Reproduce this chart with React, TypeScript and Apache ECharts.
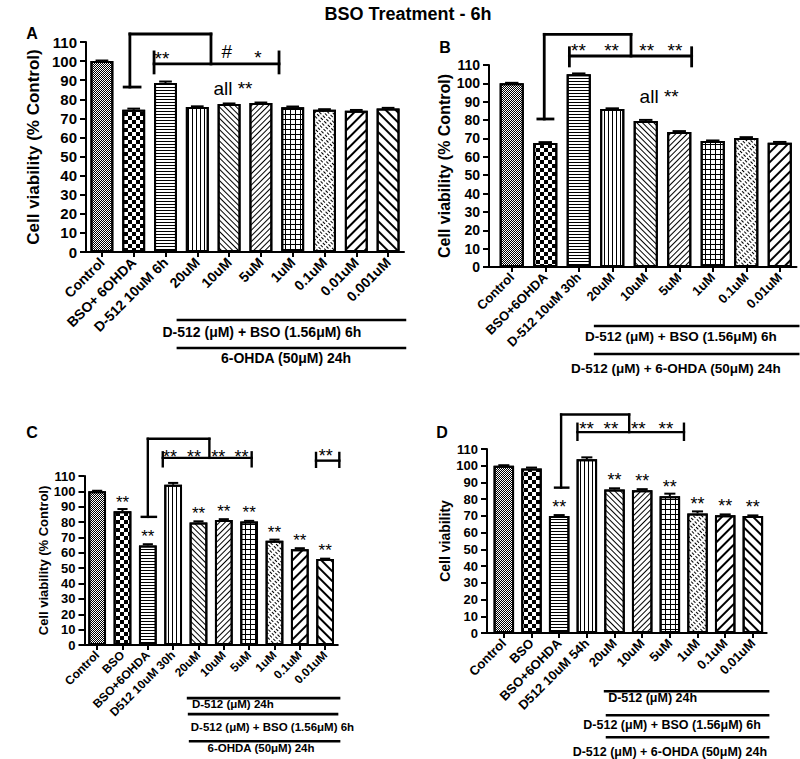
import React, { useEffect, useRef } from 'react';
import * as echarts from 'echarts';

// ---------- data ----------
const catsA = ['Control', 'BSO+ 6OHDA', 'D-512 10uM 6h', '20uM', '10uM', '5uM', '1uM', '0.1uM', '0.01uM', '0.001uM'];
const valsA = [100, 74.5, 88.5, 76, 77.5, 78, 75.8, 74.5, 74, 75.2];
const errA = [0.3, 0.6, 0.8, 0.3, 0.3, 0.3, 0.4, 0.3, 0.4, 0.3];

const catsB = ['Control', 'BSO+6OHDA', 'D-512 10uM 30h', '20uM', '10uM', '5uM', '1uM', '0.1uM', '0.01uM'];
const valsB = [100, 67.5, 104.9, 86, 79.5, 73.5, 68.6, 70.2, 67.7];
const errB = [0.3, 0.5, 0.5, 0.4, 0.6, 0.5, 0.3, 0.5, 0.4];

const catsC = ['Control', 'BSO', 'BSO+6OHDA', 'D512 10uM 30h', '20uM', '10uM', '5uM', '1uM', '0.1uM', '0.01uM'];
const valsC = [100, 87, 64.8, 104.3, 79.8, 81.3, 80.4, 67.8, 62.4, 55.9];
const errC = [0.4, 1.5, 0.8, 1.2, 0.7, 0.6, 0.4, 0.8, 0.6, 0.3];
const sigC = ['', '**', '**', '', '**', '**', '**', '**', '**', '**'];

const catsD = ['Control', 'BSO', 'BSO+6OHDA', 'D512 10uM 54h', '20uM', '10uM', '5uM', '1uM', '0.1uM', '0.01uM'];
const valsD = [100, 98.4, 70, 103.8, 85.8, 85.4, 81.8, 71.5, 70.4, 70];
const errD = [0.3, 0.5, 0.5, 1.2, 0.7, 0.6, 1.5, 1.2, 0.5, 0.3];
const sigD = ['', '', '**', '', '**', '**', '**', '**', '**', '**'];

const yMin = 0;
const yMax = 110;
const yStep = 10;

// annotation geometry in data space: [catIndex1, value1, catIndex2, value2]
type Seg = [number, number, number, number];
type Note = { x: number; y: number; text: string; size: number; bold?: boolean; align?: string };

const bracketsA: Seg[] = [
  [0.88, 86.4, 0.88, 114.2], [0.7, 86.4, 1.2, 86.4], [0.88, 114.2, 3.43, 114.2], [3.43, 114.2, 3.43, 98.5],
  [1.64, 98.5, 5.57, 98.5], [1.64, 93.8, 1.64, 104.8], [5.57, 93.8, 5.57, 104.8],
];
const notesA: Note[] = [
  { x: 1.89, y: 101.4, text: '**', size: 19 },
  { x: 3.93, y: 104.8, text: '#', size: 19 },
  { x: 4.91, y: 101.9, text: '*', size: 19 },
  { x: 4.12, y: 85.9, text: 'all **', size: 19 },
];
const groupLinesA: Seg[] = [[2.39, -35.6, 9.53, -35.6], [2.39, -50.3, 9.53, -50.3]];
const groupTextsA: Note[] = [
  { x: 5.03, y: -41.9, text: 'D-512 (μM) + BSO (1.56μM) 6h', size: 14, bold: true },
  { x: 5.79, y: -55.5, text: '6-OHDA (50μM) 24h', size: 14, bold: true },
];

const bracketsB: Seg[] = [
  [0.97, 80.6, 0.97, 126.7], [0.78, 80.6, 1.23, 80.6], [0.97, 126.7, 3.56, 126.7], [3.56, 126.7, 3.56, 114.9],
  [1.72, 114.9, 5.37, 114.9], [1.72, 109.5, 1.72, 119.4], [5.37, 109.5, 5.37, 119.4],
];
const notesB: Note[] = [
  { x: 1.99, y: 118.0, text: '**', size: 19 },
  { x: 2.98, y: 118.0, text: '**', size: 19 },
  { x: 4.03, y: 118.0, text: '**', size: 19 },
  { x: 4.87, y: 118.0, text: '**', size: 19 },
  { x: 4.4, y: 92.6, text: 'all **', size: 19 },
];
const groupLinesB: Seg[] = [[2.49, -32.1, 8.55, -32.1], [2.49, -47.4, 8.55, -47.4]];
const groupTextsB: Note[] = [
  { x: 5.05, y: -38.1, text: 'D-512 (μM) + BSO (1.56μM) 6h', size: 13.5, bold: true },
  { x: 4.9, y: -55.0, text: 'D-512 (μM) + 6-OHDA (50μM) 24h', size: 13.5, bold: true },
];

const bracketsC: Seg[] = [
  [2.0, 83.4, 2.0, 134.2], [1.76, 83.4, 2.32, 83.4], [2.0, 134.2, 4.43, 134.2], [4.43, 134.2, 4.43, 121.8],
  [2.59, 121.8, 6.1, 121.8], [2.59, 116.3, 2.59, 125.4], [6.1, 116.3, 6.1, 125.4],
  [8.64, 120, 9.56, 120], [8.64, 116, 8.64, 125], [9.56, 116, 9.56, 125],
];
const notesC: Note[] = [
  { x: 2.88, y: 122.6, text: '**', size: 18 },
  { x: 3.82, y: 122.6, text: '**', size: 18 },
  { x: 4.78, y: 122.6, text: '**', size: 18 },
  { x: 5.7, y: 122.6, text: '**', size: 18 },
  { x: 9.02, y: 123.2, text: '**', size: 18 },
];
const groupLinesC: Seg[] = [[3.59, -34.6, 9.55, -34.6], [3.63, -45.0, 9.47, -45.0], [3.67, -62.6, 9.55, -62.6]];
const groupTextsC: Note[] = [
  { x: 3.74, y: -38.6, text: 'D-512 (μM) 24h', size: 11.5, bold: true, align: 'left' },
  { x: 6.92, y: -53.5, text: 'D-512 (μM) + BSO (1.56μM) 6h', size: 11.5, bold: true },
  { x: 6.47, y: -67.2, text: '6-OHDA (50μM) 24h', size: 11.5, bold: true },
];

const bracketsD: Seg[] = [
  [2.07, 86.9, 2.07, 130.6], [1.85, 86.9, 2.33, 86.9], [2.07, 130.6, 4.53, 130.6], [4.53, 130.6, 4.53, 120.1],
  [2.66, 120.1, 6.51, 120.1], [2.66, 115.5, 2.66, 125.1], [6.51, 115.5, 6.51, 125.1],
];
const notesD: Note[] = [
  { x: 2.99, y: 122.5, text: '**', size: 19 },
  { x: 3.87, y: 122.5, text: '**', size: 19 },
  { x: 4.86, y: 122.5, text: '**', size: 19 },
  { x: 5.86, y: 122.5, text: '**', size: 19 },
];
const groupLinesD: Seg[] = [[3.66, -34.8, 9.55, -34.8], [3.73, -49.2, 9.55, -49.2], [3.73, -62.3, 9.55, -62.3]];
const groupTextsD: Note[] = [
  { x: 3.77, y: -39.0, text: 'D-512 (μM) 24h', size: 12.5, bold: true, align: 'left' },
  { x: 6.08, y: -55.1, text: 'D-512 (μM) + BSO (1.56μM) 6h', size: 12.5, bold: true },
  { x: 6.0, y: -71.3, text: 'D-512 (μM) + 6-OHDA (50μM) 24h', size: 12.5, bold: true },
];

// ---------- styles ----------
const FONT = '"Liberation Sans", Arial, Helvetica, sans-serif';
const Q = Math.PI / 4;
const decals: any[] = [
  { dashArrayX: [[1, 1], [0, 1, 1, 0]], dashArrayY: [1, 0] },
  { dashArrayX: [[4, 4], [0, 4, 4, 0]], dashArrayY: [4, 0] },
  { dashArrayX: [1, 0], dashArrayY: [1, 2] },
  { dashArrayX: [1, 3], dashArrayY: [1, 0] },
  { dashArrayX: [1, 0], dashArrayY: [1, 3], rotation: Q },
  { dashArrayX: [1, 0], dashArrayY: [1, 3], rotation: -Q },
  { dashArrayX: [[1, 0], [1, 4], [1, 4], [1, 4], [1, 4]], dashArrayY: [1, 0] },
  { dashArrayX: [3, 2], dashArrayY: [1, 2], rotation: Q },
  { dashArrayX: [1, 0], dashArrayY: [2, 5], rotation: -Q },
  { dashArrayX: [1, 0], dashArrayY: [2, 5], rotation: Q },
].map((d) => ({ color: '#000', backgroundColor: null, symbol: 'rect', symbolSize: 1, ...d }));

type Panel = {
  cats: string[]; vals: number[]; errs: number[]; sig: string[] | null;
  grid: any; yFont: number; xFont: number; nameFont: number; nameGap: number; name: string;
  barWidth: string; yOffset: number; brackets: Seg[]; notes: Note[]; glines: Seg[]; gtexts: Note[];
  bw: number; sigFont: number;
};

const panels: Panel[] = [
  { cats: catsA, vals: valsA, errs: errA, sig: null, grid: { left: 86, top: 42, width: 318, height: 210 },
    yFont: 15, xFont: 14, nameFont: 17, nameGap: 44, name: 'Cell viability (% Control)', barWidth: '72%', yOffset: 0,
    brackets: bracketsA, notes: notesA, glines: groupLinesA, gtexts: groupTextsA, bw: 2.8, sigFont: 18 },
  { cats: catsB, vals: valsB, errs: errB, sig: null, grid: { left: 495, top: 65, width: 301.5, height: 202 },
    yFont: 14, xFont: 13, nameFont: 16, nameGap: 33, name: 'Cell viability (% Control)', barWidth: '72%', yOffset: 6,
    brackets: bracketsB, notes: notesB, glines: groupLinesB, gtexts: groupTextsB, bw: 2.8, sigFont: 18 },
  { cats: catsC, vals: valsC, errs: errC, sig: sigC, grid: { left: 84.5, top: 476, width: 253.3, height: 169 },
    yFont: 13, xFont: 12, nameFont: 13, nameGap: 34, name: 'Cell viability (% Control)', barWidth: '70%', yOffset: 0,
    brackets: bracketsC, notes: notesC, glines: groupLinesC, gtexts: groupTextsC, bw: 2.4, sigFont: 17 },
  { cats: catsD, vals: valsD, errs: errD, sig: sigD, grid: { left: 490, top: 449, width: 276.7, height: 184 },
    yFont: 13, xFont: 13, nameFont: 14, nameGap: 30, name: 'Cell viability', barWidth: '74%', yOffset: 3,
    brackets: bracketsD, notes: notesD, glines: groupLinesD, gtexts: groupTextsD, bw: 2.4, sigFont: 18 },
];

function annotationSeries(gi: number, p: Panel) {
  return {
    type: 'custom', xAxisIndex: gi, yAxisIndex: gi, clip: false, silent: true, z: 10,
    data: [[0, 0]],
    renderItem: (_params: any, api: any) => {
      const c0 = api.coord([0, 0]);
      const band = api.size([1, 0])[0];
      const px = (ix: number) => c0[0] + ix * band;
      const py = (v: number) => api.coord([0, v])[1];
      const children: any[] = [];
      const line = (s: Seg, w: number) => ({
        type: 'line',
        shape: { x1: px(s[0]), y1: py(s[1]), x2: px(s[2]), y2: py(s[3]) },
        style: { stroke: '#000', lineWidth: w, lineCap: 'square' },
      });
      const text = (n: Note) => ({
        type: 'text', x: px(n.x), y: py(n.y),
        style: {
          text: n.text, fontSize: n.size, fontWeight: n.bold ? 'bold' : 'normal', fontFamily: FONT,
          fill: '#000', align: n.align || 'center', verticalAlign: 'middle',
        },
      });
      p.gtexts.forEach((n) => children.push(text(n)));
      p.glines.forEach((s) => children.push(line(s, 2.6)));
      p.brackets.forEach((s) => children.push(line(s, p.bw)));
      p.notes.forEach((n) => children.push(text(n)));
      if (p.yOffset > 0) {
        children.push(line([-0.5 - p.yOffset / band, 0, -0.5, 0], 2));
      }
      return { type: 'group', children };
    },
  };
}

function errorSeries(gi: number, p: Panel) {
  return {
    type: 'custom', xAxisIndex: gi, yAxisIndex: gi, clip: false, silent: true, z: 6,
    data: p.vals.map((v, i) => [i, v, p.errs[i]]),
    renderItem: (_params: any, api: any) => {
      const i = api.value(0);
      const v = api.value(1);
      const e = api.value(2);
      const b = api.coord([i, v]);
      const t = api.coord([i, v + e]);
      const half = api.size([1, 0])[0] * 0.2;
      return {
        type: 'group',
        children: [
          { type: 'line', shape: { x1: b[0], y1: b[1], x2: t[0], y2: t[1] }, style: { stroke: '#000', lineWidth: 2 } },
          { type: 'line', shape: { x1: t[0] - half, y1: t[1], x2: t[0] + half, y2: t[1] }, style: { stroke: '#000', lineWidth: 2 } },
        ],
      };
    },
  };
}

function buildOption() {
  const grid = panels.map((p) => ({ ...p.grid, containLabel: false }));
  const xAxis = panels.map((p, gi) => ({
    type: 'category', gridIndex: gi, data: p.cats, boundaryGap: true,
    axisLine: { show: true, lineStyle: { color: '#000', width: 2 } },
    axisTick: { show: true, alignWithLabel: true, length: 5, lineStyle: { color: '#000', width: 2 } },
    axisLabel: {
      rotate: 45, interval: 0, margin: 8, color: '#000', fontWeight: 'bold', fontSize: p.xFont, fontFamily: FONT,
    },
    splitLine: { show: false },
  }));
  const yAxis = panels.map((p, gi) => ({
    type: 'value', gridIndex: gi, min: yMin, max: yMax, interval: yStep, offset: p.yOffset,
    name: p.name, nameLocation: 'middle', nameGap: p.nameGap, nameRotate: 90,
    nameTextStyle: { color: '#000', fontWeight: 'bold', fontSize: p.nameFont, fontFamily: FONT },
    axisLine: { show: true, lineStyle: { color: '#000', width: 2 } },
    axisTick: { show: true, length: 6, lineStyle: { color: '#000', width: 2 } },
    axisLabel: { color: '#000', fontWeight: 'bold', fontSize: p.yFont, fontFamily: FONT, margin: 9 },
    splitLine: { show: false },
  }));
  const series: any[] = [];
  panels.forEach((p, gi) => {
    series.push({
      type: 'bar', xAxisIndex: gi, yAxisIndex: gi, barWidth: p.barWidth, z: 3,
      data: p.vals.map((v, i) => ({
        value: v,
        itemStyle: { color: '#fff', borderColor: '#000', borderWidth: 2, decal: decals[i % decals.length] },
      })),
      label: {
        show: !!p.sig, position: 'top', distance: 0,
        formatter: (prm: any) => (p.sig ? p.sig[prm.dataIndex] : ''),
        color: '#000', fontSize: p.sigFont, fontWeight: 'normal', fontFamily: FONT,
      },
    });
    series.push(errorSeries(gi, p));
    series.push(annotationSeries(gi, p));
  });
  const letter = (t: string, x: number, y: number) => ({
    type: 'text', x, y,
    style: { text: t, fontSize: 16, fontWeight: 'bold', fontFamily: FONT, fill: '#000', align: 'center', verticalAlign: 'middle' },
  });
  return {
    animation: false,
    backgroundColor: '#fff',
    textStyle: { fontFamily: FONT },
    grid, xAxis, yAxis, series,
    graphic: [
      {
        type: 'text', x: 408, y: 14,
        style: { text: 'BSO Treatment - 6h', fontSize: 18, fontWeight: 'bold', fontFamily: FONT, fill: '#000', align: 'center', verticalAlign: 'middle' },
      },
      letter('A', 32, 33),
      letter('B', 445, 47),
      letter('C', 32, 432),
      letter('D', 442, 432),
    ],
  };
}

export default function App() {
  const ref = useRef<HTMLDivElement>(null);
  useEffect(() => {
    document.body.style.margin = '0';
    if (!ref.current) return;
    const chart = echarts.init(ref.current, undefined, { renderer: 'svg' });
    chart.setOption(buildOption() as any);
    return () => chart.dispose();
  }, []);
  return <div ref={ref} style={{ width: 800, height: 759 }} />;
}
